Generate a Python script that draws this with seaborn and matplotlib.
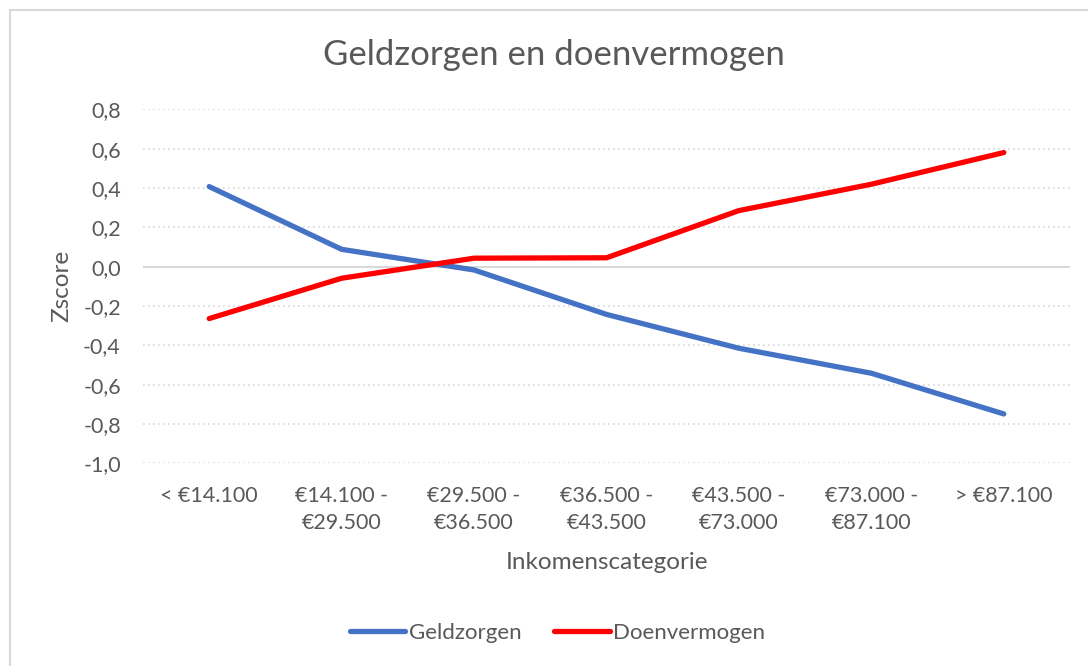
import matplotlib
matplotlib.use("Agg")
import matplotlib.pyplot as plt
import seaborn as sns
import pandas as pd
from matplotlib.patches import Rectangle
from matplotlib.lines import Line2D

categories = ["< €14.100", "€14.100 -\n€29.500", "€29.500 -\n€36.500", "€36.500 -\n€43.500",
              "€43.500 -\n€73.000", "€73.000 -\n€87.100", "> €87.100"]
geldzorgen = [0.407, 0.088, -0.017, -0.243, -0.415, -0.542, -0.749]
doenvermogen = [-0.264, -0.059, 0.043, 0.045, 0.285, 0.419, 0.580]
series_names = ["Geldzorgen", "Doenvermogen"]
colors = ["#4472C4", "#FF0000"]

sns.set_theme(style="white")
plt.rcParams['font.family'] = ['Lato', 'DejaVu Sans']

df = pd.DataFrame({
    "x": list(range(len(categories))) * 2,
    "Zscore": geldzorgen + doenvermogen,
    "serie": [series_names[0]] * len(categories) + [series_names[1]] * len(categories),
})

fig = plt.figure(figsize=(10.88, 6.66), dpi=100)
ax = fig.add_axes([143/1088, 1 - 463.3/666, (1070-143)/1088, (463.3-109.3)/666])

sns.lineplot(data=df, x="x", y="Zscore", hue="serie", palette=colors, linewidth=3.8,
             ax=ax, legend=False, solid_capstyle="round")

ax.set_xlim(-0.5, len(categories) - 0.5)
ax.set_ylim(-1.0, 0.8)
yt = [round(-1.0 + 0.2*i, 1) for i in range(10)]
ax.set_yticks(yt)
ax.set_yticklabels([f"{v:.1f}".replace(".", ",") for v in yt])
ax.set_xticks(range(len(categories)))
ax.set_xticklabels(categories, linespacing=1.45)
ax.tick_params(axis="both", length=0, labelsize=15.5, labelcolor="#595959")
ax.tick_params(axis="x", pad=16)
ax.tick_params(axis="y", pad=16)

for v in yt:
    if abs(v) < 1e-9:
        ax.axhline(v, color="#D9D9D9", lw=1.5, zorder=1)
    else:
        ax.axhline(v, color="#D9D9D9", lw=1.2, ls=(0, (1, 2)), zorder=1)
for s in ax.spines.values():
    s.set_visible(False)

ax.set_xlabel("Inkomenscategorie", fontsize=17.5, color="#595959", labelpad=14)
ax.set_ylabel("Zscore", fontsize=17.5, color="#595959", labelpad=8)
fig.text(554/1088, 1 - 55/666, "Geldzorgen en doenvermogen", ha="center", va="center",
         fontsize=25, color="#595959")

handles = [Line2D([0], [0], color=c, lw=3.8, solid_capstyle="round") for c in colors]
fig.legend(handles, series_names, loc="center", bbox_to_anchor=(557.5/1088, 1 - 633/666),
           ncol=2, frameon=False, fontsize=16, labelcolor="#595959", handlelength=2.5,
           handletextpad=0.15, columnspacing=1.5)

fig.add_artist(Rectangle((10/1088, -0.1), 1.2, 1 - 10/666 + 0.1, transform=fig.transFigure,
                         fill=False, edgecolor="#D9D9D9", lw=1.5))

fig.savefig("out.png", dpi=100)
